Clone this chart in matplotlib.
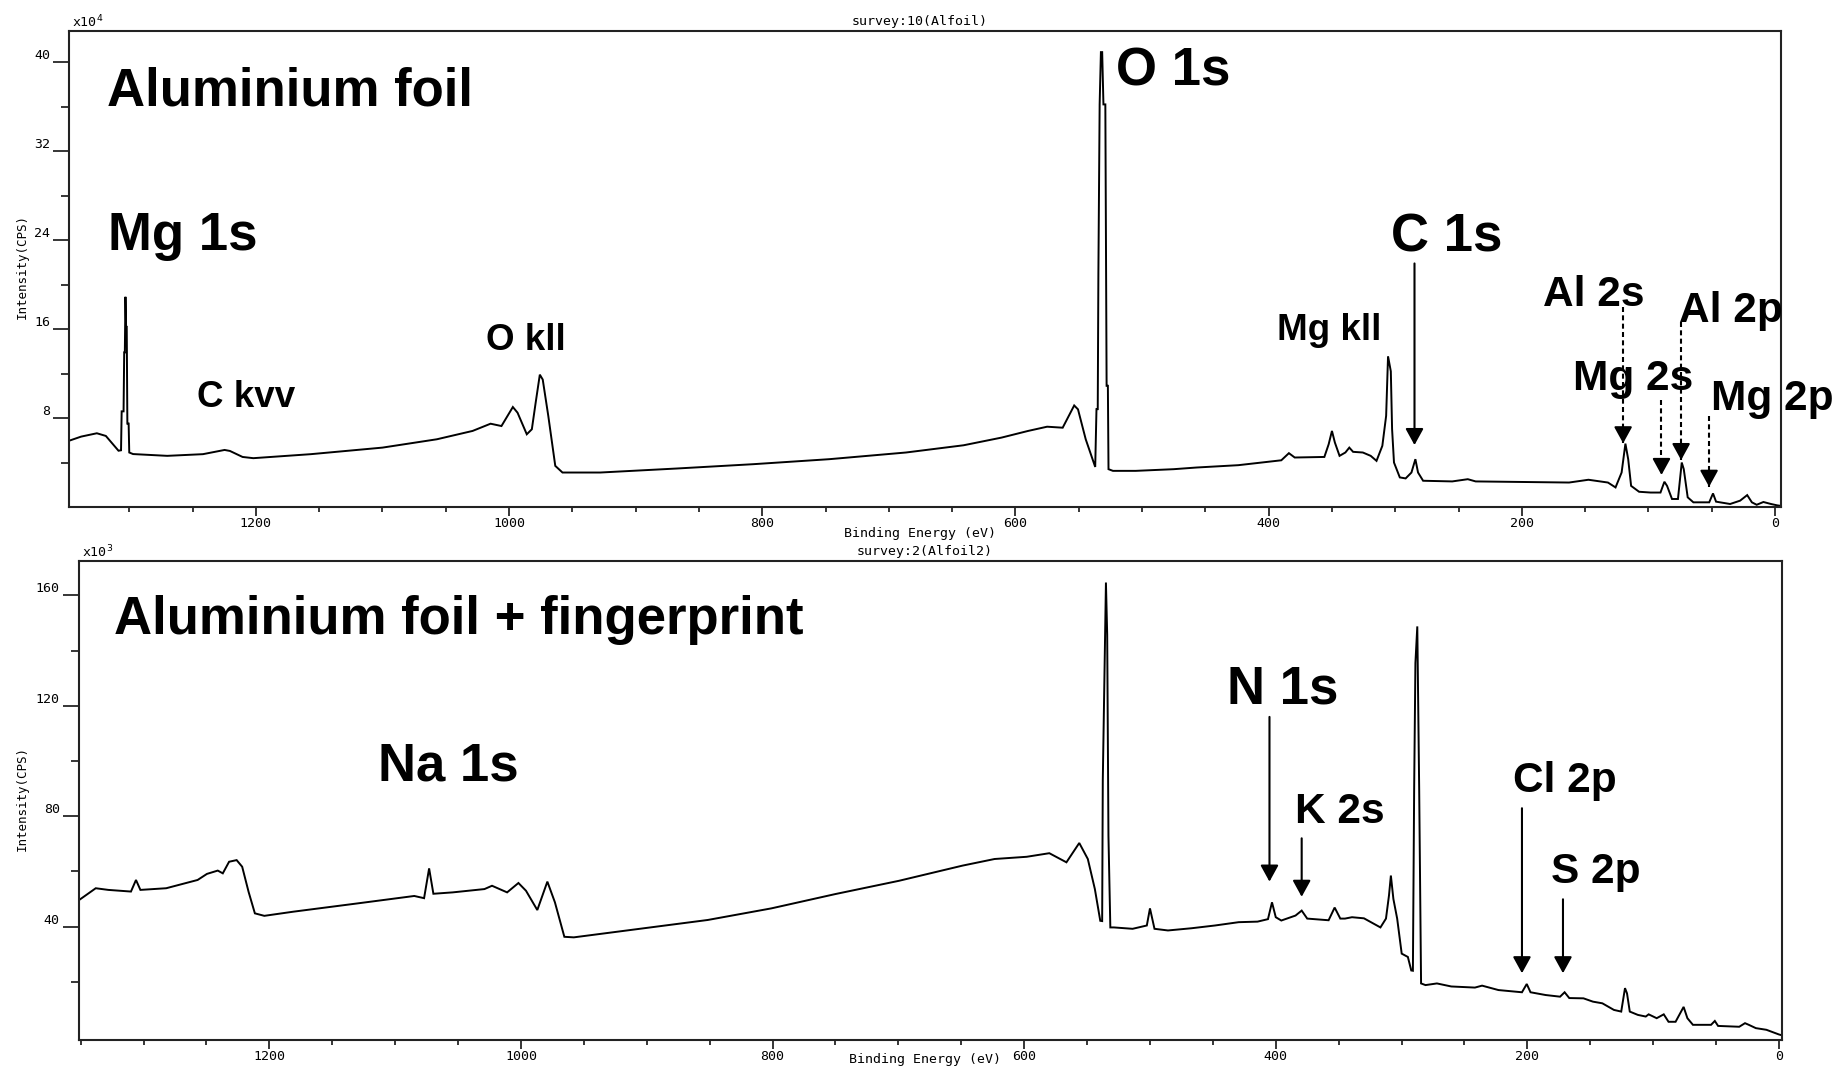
import matplotlib
matplotlib.use("Agg")
import matplotlib.pyplot as plt
from matplotlib.ticker import FixedLocator, MultipleLocator

W, H, DPI = 1836, 1069, 100

# ---- survey 10: clean aluminium foil (binding energy eV, intensity x10^4 CPS)
foil_be = [1348, 1338, 1325.6, 1318.5, 1312.8, 1308.5, 1306.5, 1306, 1304.5, 1304,
           1303.5, 1303, 1302.5, 1302, 1301.5, 1300.5, 1300, 1297, 1270, 1241.8,
           1224.7, 1220.5, 1210.5, 1202, 1156.6, 1100, 1057, 1028.8, 1014.6, 1006,
           997, 993.3, 986, 982, 979, 975.7, 973.4, 969, 963.5, 957.8,
           928, 867.7, 807, 747, 686.5, 641, 611, 590, 575, 562.7,
           553.6, 550.6, 544.5, 540, 537, 536, 535, 534.5, 533.5, 532.5,
           531.5, 530.5, 529, 528, 527, 526.5, 523, 505, 475, 457,
           424, 390, 384, 379.4, 356, 352.6, 350, 347.7, 344, 339.4,
           336.3, 333.3, 325.6, 319.4, 314.8, 310.2, 307.2, 305.7, 303.5, 302.5,
           301, 296.4, 291.8, 287.2, 284.1, 282, 278, 255, 242.7, 236.5,
           162.7, 147.4, 132, 126, 121.2, 118.2, 116, 113.7, 107.4, 98.3,
           90.5, 87.4, 85.3, 81.4, 76.7, 73.7, 72.1, 69, 64.5, 52,
           49, 46.6, 35.5, 27.6, 22, 18.3, 14.5, 9.2, 3.2, -1.6, -4.5]
foil_cps = [5.94, 6.33, 6.63, 6.39, 5.64, 5.06, 5.1, 8.6, 8.6, 13.9,
            13.9, 18.9, 16.2, 16.2, 7.5, 7.5, 4.9, 4.76, 4.6, 4.75,
            5.13, 5.04, 4.5, 4.39, 4.75, 5.34, 6.09, 6.84, 7.49, 7.28,
            8.99, 8.48, 6.54, 6.99, 9.37, 11.9, 11.46, 8.18, 3.7, 3.1,
            3.1, 3.46, 3.85, 4.3, 4.9, 5.55, 6.24, 6.84, 7.22, 7.13,
            9.13, 8.78, 6.09, 4.6, 3.6, 8.8, 8.8, 20.9, 36.2, 40.9,
            40.9, 36.2, 36.2, 10.9, 10.9, 3.4, 3.25, 3.25, 3.4, 3.55,
            3.76, 4.2, 4.84, 4.45, 4.5, 5.64, 6.84, 5.8, 4.6, 4.9,
            5.34, 4.96, 4.9, 4.6, 4.15, 5.5, 8.2, 13.55, 12.2, 7.0,
            4.0, 2.66, 2.57, 3.1, 4.3, 3.1, 2.36, 2.3, 2.5, 2.3,
            2.2, 2.45, 2.2, 1.76, 3.1, 5.7, 4.3, 1.9, 1.37, 1.3,
            1.3, 2.27, 1.9, 0.72, 0.72, 4.0, 3.4, 0.87, 0.42, 0.42,
            1.22, 0.48, 0.27, 0.57, 1.07, 0.42, 0.2, 0.45, 0.27, 0.15, 0.1]

# ---- survey 2: aluminium foil + fingerprint (binding energy eV, intensity x10^3 CPS)
print_be = [1351, 1338, 1328, 1310, 1306, 1302.5, 1282, 1257, 1249.6, 1241,
            1237, 1232, 1226, 1221.6, 1216.5, 1211.5, 1204, 1181, 1130, 1084.8,
            1077, 1073, 1069.6, 1054.3, 1029, 1023, 1011, 1002, 996, 987,
            979, 973, 965.5, 958, 902, 851.5, 801, 750, 699.5, 649,
            623.5, 598, 580, 566.4, 556.2, 549.4, 543.8, 539.5, 538, 537.5,
            536, 535, 534, 533, 531.5, 528.7, 513.8, 502.5, 500, 496.4,
            485.7, 467, 448.3, 429.5, 414.5, 406.2, 403, 400, 395.6, 384.3,
            379.4, 375, 358, 353.2, 348.7, 345, 339.4, 329.9, 324.3, 316.8,
            312.4, 310, 308.5, 306.5, 303.5, 299.9, 295, 292.3, 291, 290,
            289, 287.5, 286, 284.5, 281, 271.9, 260.5, 241.7, 236, 223,
            204.3, 200.5, 197.5, 185.5, 174, 170.4, 166.7, 155.4, 147.9, 140.4,
            131.2, 125.4, 122.4, 120.8, 118.6, 112.2, 105.9, 103.6, 97.2, 91.6,
            87.8, 82.2, 75.8, 72.8, 68.4, 54, 51, 48.4, 31.6, 27,
            24, 18.4, 10, 4, 0, -2.4]
print_cps = [49.7, 53.9, 53.3, 52.7, 56.9, 53.3, 53.9, 56.9, 59.1, 60.3,
             59.3, 63.5, 64.1, 61.7, 52.6, 44.8, 43.9, 45.4, 48.4, 51.1,
             50.3, 61.1, 51.9, 52.4, 53.6, 54.8, 52.4, 55.8, 53.0, 46.0,
             56.3, 48.8, 36.3, 36.1, 39.4, 42.4, 46.6, 51.8, 56.6, 62.1,
             64.5, 65.3, 66.6, 63.3, 70.3, 64.5, 53.6, 42.1, 42.0, 93.0,
             137.0, 164.7, 145.8, 72.9, 39.7, 39.7, 39.2, 40.4, 46.6, 39.2,
             38.6, 39.4, 40.4, 41.6, 41.8, 42.7, 48.8, 43.4, 42.2, 44.0,
             45.8, 42.9, 42.3, 46.9, 42.9, 42.9, 43.4, 43.0, 41.6, 39.7,
             42.9, 51.3, 58.5, 50.0, 42.9, 30.2, 29.0, 24.1, 24.0, 89.8,
             135.5, 148.8, 89.8, 19.4, 18.8, 19.4, 18.3, 17.9, 18.6, 17.0,
             16.2, 19.2, 16.2, 15.2, 14.6, 16.2, 14.1, 14.0, 12.8, 12.2,
             9.8, 9.2, 17.7, 15.8, 9.2, 8.0, 7.4, 8.2, 6.8, 8.2,
             5.5, 5.5, 10.9, 6.8, 4.4, 4.4, 5.8, 4.0, 3.7, 5.0,
             4.4, 3.2, 2.6, 1.6, 0.9, 0.6]

be_major = [0, 200, 400, 600, 800, 1000, 1200]

BIG, MID, SMALL = 38, 30.5, 26.5
SANS = ["Liberation Sans", "Arial", "DejaVu Sans"]
MONO = ["DejaVu Sans Mono"]
TICK_FS, AXIS_FS = 9.5, 9.5

fig = plt.figure(figsize=(W / DPI, H / DPI), dpi=DPI)


def axes_px(left, top, right, bottom):
    return fig.add_axes([left / W, 1 - bottom / H, (right - left) / W, (bottom - top) / H])


def setup(ax, be, cps, xlim, ylim, ymaj, ymin, exponent, survey, xlab_y, ylab_x):
    ax.plot(be, cps, color="black", lw=1.4, solid_joinstyle="miter")
    ax.set_xlim(*xlim)
    ax.set_ylim(*ylim)
    for s in ax.spines.values():
        s.set_linewidth(1.5)
        s.set_color("#222222")
    ax.set_xticks(be_major, labels=[str(v) for v in be_major], fontfamily=MONO,
                  fontsize=TICK_FS)
    ax.xaxis.set_minor_locator(MultipleLocator(50))
    ax.set_yticks(ymaj, labels=[str(v) for v in ymaj], fontfamily=MONO,
                  fontsize=TICK_FS, va="bottom")
    ax.yaxis.set_minor_locator(FixedLocator(ymin))
    ax.tick_params(axis="x", which="major", direction="out", length=6.5, width=1.1, pad=1)
    ax.tick_params(axis="x", which="minor", direction="out", length=3.6, width=1.1)
    ax.tick_params(axis="y", which="major", direction="out", length=11.5, width=1.1, pad=2)
    ax.tick_params(axis="y", which="minor", direction="out", length=5.8, width=1.1)
    ax.set_xlabel("Binding Energy (eV)", fontfamily=MONO, fontsize=AXIS_FS)
    ax.xaxis.set_label_coords(0.497, xlab_y)
    ax.xaxis.label.set_va("center")
    ax.set_ylabel("Intensity(CPS)", fontfamily=MONO, fontsize=9)
    ax.yaxis.set_label_coords(ylab_x, 0.505)
    ax.yaxis.label.set_va("center")
    ax.text(0.002, 1.002, r"x10$^{%d}$" % exponent, transform=ax.transAxes,
            fontfamily=MONO, fontsize=TICK_FS, va="bottom", ha="left")
    ax.text(0.497, 1.02, survey, transform=ax.transAxes, fontfamily=MONO,
            fontsize=AXIS_FS, va="center", ha="center")


HEAD = dict(arrowstyle="-|>,head_length=0.4,head_width=0.22", color="black",
            lw=1.5, mutation_scale=25, shrinkA=0, shrinkB=0)


def arrow(ax, e, tail, tip, dashed=False):
    if dashed:
        ax.plot([e, e], [tail, tip], color="black", lw=1.5, ls=(0, (2.4, 1.6)))
        ax.annotate("", xy=(e, tip), xytext=(0, 10), textcoords="offset points",
                    arrowprops=HEAD)
    else:
        ax.annotate("", xy=(e, tip), xytext=(e, tail), arrowprops=HEAD)


def label(ax, text, e, base, size):
    ax.text(e, base, text, fontfamily=SANS, fontweight="bold", fontsize=size,
            ha="left", va="baseline", clip_on=False)


# ---------------- top panel: clean foil ----------------
ax1 = axes_px(69, 31, 1781, 507)
setup(ax1, foil_be, foil_cps, (1347.6, -4.7), (0, 42.8), [8, 16, 24, 32, 40],
      [4, 12, 20, 28, 36], 4, "survey:10(Alfoil)", -0.055, -0.0275)
ax1.text(0.022, 0.8445, "Aluminium foil", transform=ax1.transAxes, fontfamily=SANS,
         fontweight="bold", fontsize=BIG, ha="left", va="baseline")
label(ax1, "Mg 1s", 1317, 23.1, BIG)
label(ax1, "C kvv", 1246.7, 8.96, SMALL)
label(ax1, "O kll", 1018, 14.1, SMALL)
label(ax1, "O 1s", 520.5, 37.9, BIG)
label(ax1, "C 1s", 303.3, 23.0, BIG)
label(ax1, "Mg kll", 393.4, 15.0, SMALL)
label(ax1, "Al 2s", 183.3, 18.1, MID)
label(ax1, "Al 2p", 75.8, 16.6, MID)
label(ax1, "Mg 2s", 159.7, 10.5, MID)
label(ax1, "Mg 2p", 50.6, 8.7, MID)
arrow(ax1, 284.8, 21.9, 5.57)
arrow(ax1, 120.0, 17.98, 5.73, dashed=True)
arrow(ax1, 89.7, 9.6, 2.88, dashed=True)
arrow(ax1, 74.2, 16.6, 4.22, dashed=True)
arrow(ax1, 52.1, 8.2, 1.82, dashed=True)

# ---------------- bottom panel: foil + fingerprint ----------------
ax2 = axes_px(78.5, 561, 1782, 1040)
setup(ax2, print_be, print_cps, (1351.7, -2.4), (-1.1, 172.5), [40, 80, 120, 160],
      [20, 60, 100, 140], 3, "survey:2(Alfoil2)", -0.041, -0.0332)
ax2.text(0.0208, 0.8476, "Aluminium foil + fingerprint", transform=ax2.transAxes,
         fontfamily=SANS, fontweight="bold", fontsize=BIG, ha="left", va="baseline")
label(ax2, "Na 1s", 1113.7, 93.1, BIG)
label(ax2, "N 1s", 438.8, 120.8, BIG)
label(ax2, "K 2s", 385.0, 77.4, MID)
label(ax2, "Cl 2p", 211.7, 88.9, MID)
label(ax2, "S 2p", 181.6, 55.9, MID)
arrow(ax2, 405.0, 116.0, 56.3)
arrow(ax2, 379.4, 72.0, 50.8)
arrow(ax2, 204.3, 82.9, 23.1)
arrow(ax2, 171.7, 49.9, 23.1)

fig.savefig("out.png", dpi=DPI)
